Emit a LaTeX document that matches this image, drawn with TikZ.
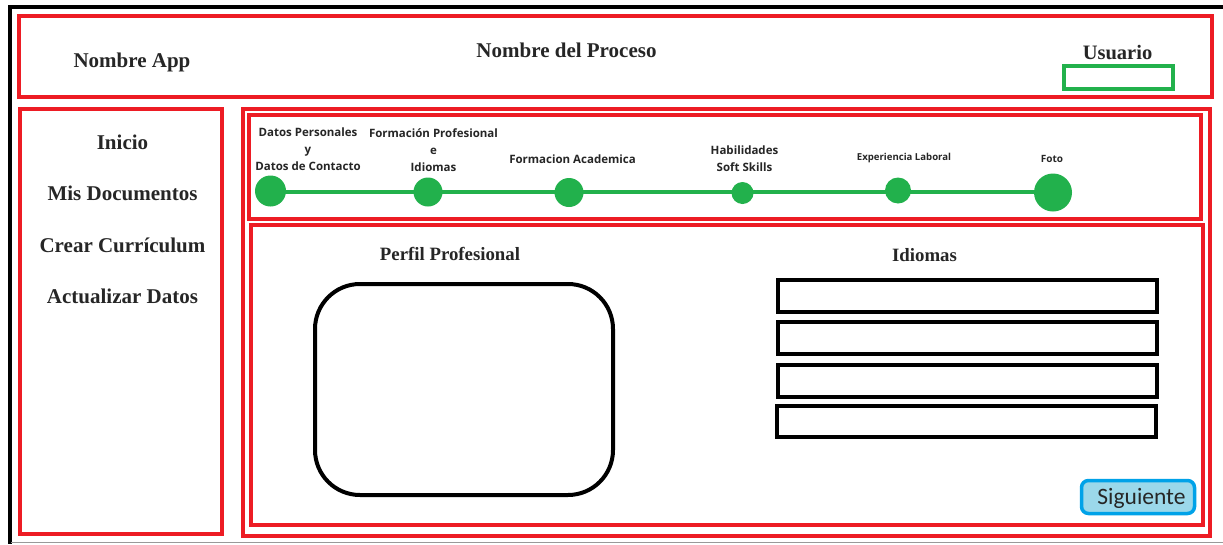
\documentclass[tikz,border=0pt]{standalone}
\usepackage{fontspec}
\setmainfont{Liberation Serif}
\newfontfamily\lab{Open Sans}
\newfontfamily\btn{Carlito}
\definecolor{rd}{HTML}{ED1C24}
\definecolor{gr}{HTML}{22B14C}
\definecolor{tx}{HTML}{262626}
\tikzset{
 redbox/.style={draw=rd,line width=4pt},
 blackbox/.style={draw=black,line width=4pt},
 ttl/.style={inner sep=0pt,text=tx,font=\bfseries\fontsize{#1}{#1}\selectfont},
 ttl/.default=21pt,
 stp/.style={inner sep=0pt,text=tx,align=center,font=\lab\bfseries\fontsize{#1}{17.3pt}\selectfont},
 dot/.style={circle,fill=gr,inner sep=0pt,minimum size=#1},
}
\begin{document}
\begin{tikzpicture}[x=1pt,y=-1pt,line join=miter]
\useasboundingbox (0,0) rectangle (1223,544);
\fill[white] (0,0) rectangle (1223,544);
% outer frame
\draw[black,line width=4pt] (1223,7) -- (9.5,7) -- (9.5,544);
\draw[gray!80,line width=1pt] (11,542.5) -- (1223,542.5);
% panels
\draw[redbox] (19,16) rectangle (1211.5,97);
\draw[redbox] (20,108.5) rectangle (222,534);
\draw[redbox] (243,109) rectangle (1210,536);
\draw[redbox] (249,115) rectangle (1201,219);
\draw[redbox] (250.5,225) rectangle (1203,525);
% header
\node[ttl] (app) at (132,62.5) {Nombre App};
\node[ttl] (proc) at (566.5,50.5) {Nombre del Proceso};
\node[ttl=20.5pt] (usr) at (1117.5,52.5) {Usuario};
\node[draw=gr,line width=4pt,minimum width=109pt,minimum height=23pt,inner sep=0pt] (usrbox) at (1118.5,77.5) {};
% sidebar
\node[ttl] (m1) at (122.5,142.5) {Inicio};
\node[ttl] (m2) at (122.5,193.5) {Mis Documentos};
\node[ttl] (m3) at (122.5,245) {Crear Currículum};
\node[ttl] (m4) at (122.5,296) {Actualizar Datos};
% stepper
\coordinate (rail) at (0,192);
\node[dot=31pt] (s1) at (270.5,191) {};
\node[dot=29pt] (s2) at (428,192) {};
\node[dot=29pt] (s3) at (569,192.5) {};
\node[dot=22pt] (s4) at (742.5,193) {};
\node[dot=26pt] (s5) at (898,190.5) {};
\node[dot=38pt] (s6) at (1053,192.5) {};
\draw[gr,line width=4pt] (s1 |- rail) -- (s2 |- rail) (s2 |- rail) -- (s3 |- rail) (s3 |- rail) -- (s4 |- rail) (s4 |- rail) -- (s5 |- rail) (s5 |- rail) -- (s6 |- rail);
\node[stp=11.5pt] (l1) at (308,149) {Datos Personales\\y\\Datos de Contacto};
\node[stp=11.5pt] (l2) at (433.5,150) {Formación Profesional\\e\\Idiomas};
\node[stp=11.5pt] (l3) at (572.5,159) {Formacion Academica};
\node[stp=11.5pt] (l4) at (744.5,158.5) {Habilidades\\Soft Skills};
\node[stp=9.6pt] (l5) at (904,158) {Experiencia Laboral};
\node[stp=10pt] (l6) at (1052,158.5) {Foto};
% content
\node[ttl=18.8pt] (perfil) at (450,254) {Perfil Profesional};
\node[ttl=18.8pt] (idi) at (924.5,255) {Idiomas};
\node[blackbox,rounded corners=45pt,minimum width=298pt,minimum height=211pt,inner sep=0pt] (area) at (464,389.5) {};
\node[blackbox,minimum width=379pt,minimum height=32pt,inner sep=0pt] (i1) at (967.5,296) {};
\node[blackbox,minimum width=379pt,minimum height=32pt,inner sep=0pt] (i2) at (967.5,338) {};
\node[blackbox,minimum width=379pt,minimum height=32pt,inner sep=0pt] (i3) at (967,381) {};
\node[blackbox,minimum width=379pt,minimum height=31pt,inner sep=0pt] (i4) at (966.5,421.5) {};
\node[draw={rgb,255:red,0;green,162;blue,232},fill={rgb,255:red,155;green,216;blue,234},line width=3.5pt,rounded corners=7pt,minimum width=113pt,minimum height=33pt,inner sep=0pt] (next) at (1138,497) {};
\node[inner sep=0pt,text=tx,font=\btn\fontsize{23.5pt}{23.5pt}\selectfont] (nexttxt) at (1141.5,498) {Siguiente};
\end{tikzpicture}
\end{document}
